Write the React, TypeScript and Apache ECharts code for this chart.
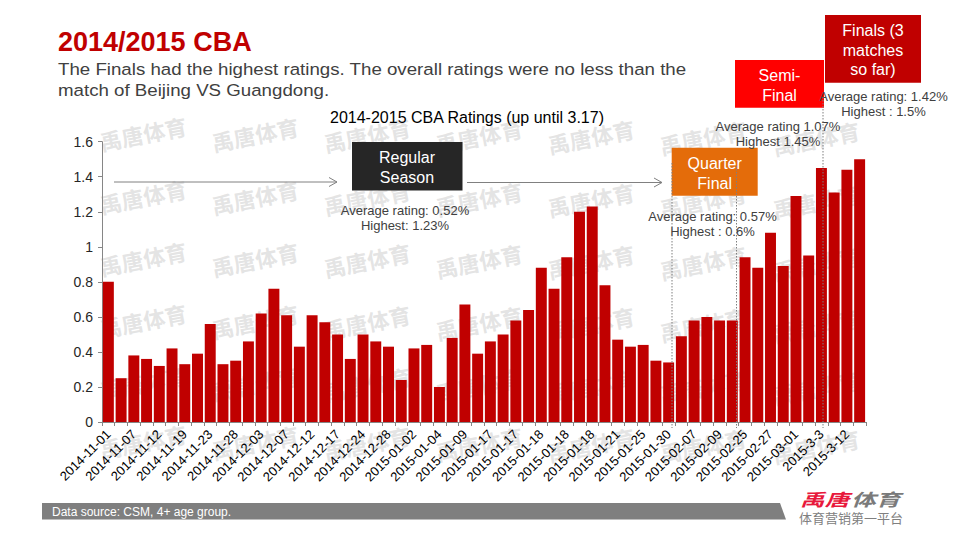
import React, { useEffect, useRef } from "react";
import * as echarts from "echarts";

const tickLabels = [
  "2014-11-01", "2014-11-07", "2014-11-12", "2014-11-19", "2014-11-23", "2014-11-28",
  "2014-12-03", "2014-12-07", "2014-12-12", "2014-12-17", "2014-12-24", "2014-12-28",
  "2015-01-02", "2015-01-04", "2015-01-09", "2015-01-17", "2015-01-17", "2015-01-18",
  "2015-01-18", "2015-01-18", "2015-01-21", "2015-01-25", "2015-01-30", "2015-02-07",
  "2015-02-09", "2015-02-25", "2015-02-27", "2015-03-01", "2015-3-3", "2015-3-12",
];

const ratings = [
  0.80, 0.25, 0.38, 0.36, 0.32, 0.42, 0.33, 0.39, 0.56, 0.33,
  0.35, 0.46, 0.62, 0.76, 0.61, 0.43, 0.61, 0.57, 0.50, 0.36,
  0.50, 0.46, 0.43, 0.24, 0.42, 0.44, 0.20, 0.48, 0.67, 0.39,
  0.46, 0.50, 0.58, 0.64, 0.88, 0.76, 0.94, 1.20, 1.23, 0.78,
  0.47, 0.43, 0.44, 0.35, 0.34, 0.49, 0.58, 0.60, 0.58, 0.58,
  0.94, 0.88, 1.08, 0.89, 1.29, 0.95, 1.45, 1.31, 1.44, 1.50,
];

const yTicks = { min: 0, max: 1.6, interval: 0.2 };

// 60 matches; only every other one carries a date label in the original
const categories: string[] = ratings.map((_, i) => (i % 2 === 0 ? tickLabels[i / 2] : ""));

const FONT = "'Liberation Sans', Arial, sans-serif";
const CJK = "'Noto Sans CJK SC', sans-serif";

function txt(text: string, x: number, y: number, o: any = {}) {
  return {
    type: "text",
    z: o.z ?? 5,
    x: o.ex ?? 0,
    y: o.ey ?? 0,
    scaleX: o.scaleX ?? 1,
    rotation: o.rotation ?? 0,
    style: {
      text,
      x,
      y,
      fill: o.fill ?? "#404040",
      fontSize: o.size ?? 13,
      fontFamily: o.family ?? FONT,
      fontWeight: o.weight ?? "normal",
      fontStyle: o.style ?? "normal",
      textAlign: o.align ?? "center",
      textVerticalAlign: "middle",
      verticalAlign: "middle",
    },
  };
}

function box(x: number, y: number, w: number, h: number, fill: string) {
  return { type: "rect", z: 4, shape: { x, y, width: w, height: h }, style: { fill } };
}

export default function App() {
  const ref = useRef<HTMLDivElement>(null);

  useEffect(() => {
    document.body.style.margin = "0";
    const chart = echarts.init(ref.current!, null, { renderer: "svg" });

    const watermarks: any[] = [];
    const cols = [143, 255, 367, 479, 591, 703, 816];
    const rows = [133, 196, 258, 320, 382, 441];
    rows.forEach((cy) => {
      cols.forEach((cx, ci) => {
        watermarks.push({
          type: "text",
          z: 0,
          x: cx,
          y: cy + ci * 0.8,
          rotation: 0.19,
          style: {
            text: "禹唐体育",
            x: 0,
            y: 0,
            fill: "rgba(205,205,205,0.55)",
            fontSize: 22,
            fontWeight: "bold",
            fontFamily: CJK,
            textAlign: "center",
            textVerticalAlign: "middle",
            verticalAlign: "middle",
          },
        });
      });
    });

    const gray = "#808080";
    const dotted = (x: number, y1: number, y2: number) => ({
      type: "line",
      z: 6,
      shape: { x1: x, y1, x2: x, y2 },
      style: { stroke: "#7f7f7f", lineWidth: 1, lineDash: [1.5, 1.5] },
    });

    const graphics: any[] = [
      ...watermarks,
      txt("2014/2015 CBA", 58, 42, { align: "left", size: 27, weight: "bold", fill: "#c00000" }),
      txt("The Finals had the highest ratings. The overall ratings were no less than the", 0, 0, {
        ex: 58, ey: 69, scaleX: 1.1, align: "left", size: 17, fill: "#404040",
      }),
      txt("match of Beijing VS Guangdong.", 0, 0, {
        ex: 58, ey: 90.5, scaleX: 1.1, align: "left", size: 17, fill: "#404040",
      }),
      txt("2014-2015 CBA Ratings (up until 3.17)", 467, 117, { size: 16, fill: "#000000" }),

      // arrows
      { type: "line", z: 5, shape: { x1: 114, y1: 182, x2: 337, y2: 182 }, style: { stroke: gray, lineWidth: 1 } },
      { type: "polyline", z: 5, shape: { points: [[329, 177.5], [337, 182], [329, 186.5]] }, style: { stroke: gray, lineWidth: 1, fill: "none" } },
      { type: "line", z: 5, shape: { x1: 467, y1: 182.5, x2: 662, y2: 182.5 }, style: { stroke: gray, lineWidth: 1 } },
      { type: "polyline", z: 5, shape: { points: [[654, 178], [662, 182.5], [654, 187]] }, style: { stroke: gray, lineWidth: 1, fill: "none" } },

      // Regular season
      box(352, 142, 110.5, 48.5, "#262626"),
      txt("Regular", 407, 157, { size: 16, fill: "#ffffff" }),
      txt("Season", 407, 177, { size: 16, fill: "#ffffff" }),
      txt("Average rating: 0.52%", 405, 210, {}),
      txt("Highest: 1.23%", 405, 225, {}),

      // Quarter final
      box(671.7, 147.7, 86, 48, "#e46c0a"),
      txt("Quarter", 714.7, 163.5, { size: 16, fill: "#ffffff" }),
      txt("Final", 714.7, 183, { size: 16, fill: "#ffffff" }),
      txt("Average rating: 0.57%", 712.5, 216, {}),
      txt("Highest : 0.6%", 712.5, 231.5, {}),

      // Semi final
      box(735, 60, 89, 47.7, "#ff0000"),
      txt("Semi-", 779.5, 75.5, { size: 16, fill: "#ffffff" }),
      txt("Final", 779.5, 95, { size: 16, fill: "#ffffff" }),
      txt("Average rating 1.07%", 778, 126, {}),
      txt("Highest 1.45%", 778, 141.5, {}),

      // Finals
      box(825, 15, 96, 67.7, "#c00000"),
      txt("Finals (3", 873, 30.5, { size: 16, fill: "#ffffff" }),
      txt("matches", 873, 50, { size: 16, fill: "#ffffff" }),
      txt("so far)", 873, 69.5, { size: 16, fill: "#ffffff" }),
      txt("Average rating: 1.42%", 883.5, 96, {}),
      txt("Highest : 1.5%", 883.5, 111.5, {}),

      dotted(672, 163, 428),
      dotted(736.5, 166, 428),
      dotted(823, 97, 428),

      // footer
      {
        type: "polygon",
        z: 3,
        shape: { points: [[42, 503], [780, 503], [786, 519.5], [42, 519.5]] },
        style: { fill: "#7f7f7f" },
      },
      txt("Data source: CSM, 4+ age group.", 52, 511.5, { align: "left", size: 12, fill: "#ffffff" }),
      txt("禹唐", 0, 0, {
        ex: 800, ey: 498, scaleX: 1.45, align: "left", size: 17, weight: "bold", style: "italic",
        fill: "#e8193c", family: CJK,
      }),
      txt("体育", 0, 0, {
        ex: 851, ey: 498, scaleX: 1.45, align: "left", size: 17, weight: "bold", style: "italic",
        fill: "#7a7a7a", family: CJK,
      }),
      txt("体育营销第一平台", 799, 517.5, { align: "left", size: 13, fill: "#808080", family: CJK }),
    ];

    chart.setOption({
      animation: false,
      textStyle: { fontFamily: FONT },
      grid: { left: 102, right: 94, top: 141.7, bottom: 118, outerBoundsMode: "none" },
      xAxis: {
        type: "category",
        data: categories,
        axisLine: { lineStyle: { color: "#868686" } },
        axisTick: { show: true, interval: 0, length: 4, lineStyle: { color: "#868686" } },
        axisLabel: {
          interval: 1,
          rotate: 45,
          fontSize: 13,
          color: "#000000",
          fontFamily: FONT,
          margin: 10,
        },
      },
      yAxis: {
        type: "value",
        min: yTicks.min,
        max: yTicks.max,
        interval: yTicks.interval,
        axisLine: { show: true, lineStyle: { color: "#868686" } },
        axisTick: { show: true, length: 4, lineStyle: { color: "#868686" } },
        splitLine: { show: false },
        axisLabel: { fontSize: 14, color: "#262626", margin: 9, fontFamily: FONT },
      },
      series: [
        {
          type: "bar",
          data: ratings,
          barCategoryGap: "14%",
          itemStyle: { color: "#c00000" },
          z: 2,
        },
      ],
      graphic: graphics,
    });

    return () => chart.dispose();
  }, []);

  return <div ref={ref} style={{ width: 960, height: 540 }} />;
}
